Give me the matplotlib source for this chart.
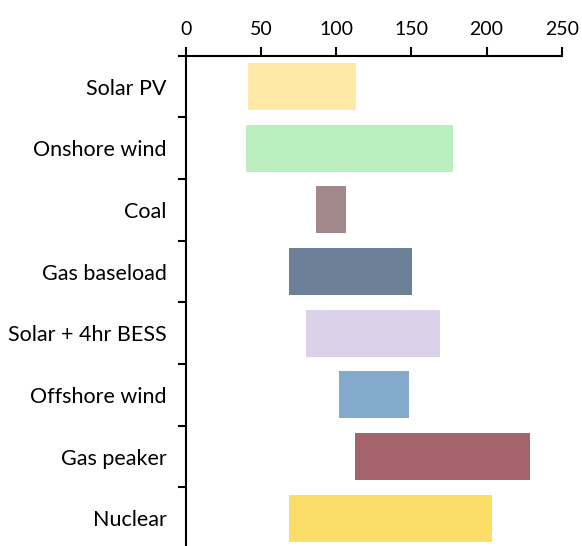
import matplotlib
matplotlib.use("Agg")
import matplotlib.pyplot as plt
import numpy as np

# Cost ranges per technology (low and high end of each range)
technologies = ["Solar PV", "Onshore wind", "Coal", "Gas baseload",
                "Solar + 4hr BESS", "Offshore wind", "Gas peaker", "Nuclear"]
range_low = [41.5, 39.7, 86.3, 68.5, 80.0, 101.8, 112.6, 68.7]
range_high = [112.9, 177.6, 106.4, 150.2, 169.0, 148.4, 229.0, 203.4]
bar_colors = ["#FEE9A6", "#BBEFBF", "#A3888B", "#6C8198",
              "#DBD1E8", "#84AACB", "#A5646C", "#FBDE68"]
x_ticks = [0, 50, 100, 150, 200, 250]

plt.rcParams["font.family"] = ["Lato", "DejaVu Sans"]

fig = plt.figure(figsize=(5.82, 5.46), dpi=100)
ax = fig.add_axes([0.3196, -0.0055, 0.6455, 0.9035])

n = len(technologies)
y = np.arange(n)
widths = np.array(range_high) - np.array(range_low)
ax.barh(y, widths, left=range_low, height=0.76, color=bar_colors, edgecolor="none")

ax.set_xlim(0, 250)
ax.set_ylim(n - 0.5, -0.5)

ax.xaxis.tick_top()
ax.set_xticks(x_ticks)
ax.set_xticklabels([str(t) for t in x_ticks], fontsize=14)
ax.tick_params(axis="x", direction="out", length=6.5, width=1.5, pad=6, colors="black")

# Tick marks sit between categories; labels sit at the category centres
ax.set_yticks(np.arange(n + 1) - 0.5)
ax.set_yticklabels([])
ax.set_yticks(y, minor=True)
ax.set_yticklabels(technologies, minor=True, fontsize=15.5)
ax.tick_params(axis="y", which="major", direction="out", length=6, width=1.5)
ax.tick_params(axis="y", which="minor", length=0, pad=14)

for side in ("right", "bottom"):
    ax.spines[side].set_visible(False)
for side in ("top", "left"):
    ax.spines[side].set_linewidth(1.5)

fig.savefig("out.png", dpi=100)
